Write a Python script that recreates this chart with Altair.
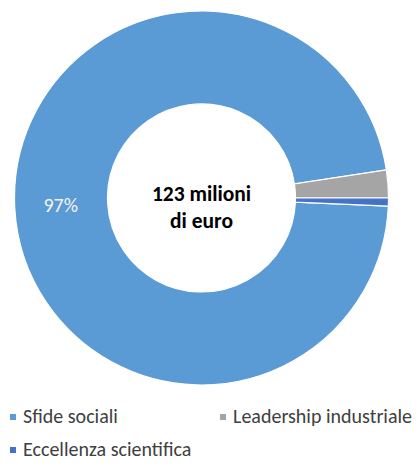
import math
import altair as alt
import pandas as pd

categories = ["Sfide sociali", "Leadership industriale", "Eccellenza scientifica"]
shares = [96.9, 2.4, 0.7]
colors = ["#5B9BD5", "#A5A5A5", "#4472C4"]
slice_labels = ["97%", "", ""]
center_lines = ["123 milioni", "di euro"]

# legend is filled column by column: list order so that rows read
# Sfide sociali | Leadership industriale / Eccellenza scientifica
legend_order = [categories[0], categories[2], categories[1]]
legend_colors = [colors[0], colors[2], colors[1]]

df = pd.DataFrame({
    "cat": categories,
    "share": shares,
    "order": list(range(len(categories))),
    "label": slice_labels,
})

total = sum(shares)
start = math.pi / 2 + shares[2] / total * 2 * math.pi
theta_scale = alt.Scale(range=[start, start + 2 * math.pi])

CX, CY = 193.5, 190
FONT = "Carlito, Lato"

base = alt.Chart(df)

arcs = base.mark_arc(innerRadius=94, outerRadius=187, stroke="white", strokeWidth=1.2).encode(
    theta=alt.Theta("share:Q", stack=True, scale=theta_scale),
    order=alt.Order("order:Q"),
    color=alt.Color(
        "cat:N",
        scale=alt.Scale(domain=legend_order, range=legend_colors),
        legend=alt.Legend(
            title=None,
            orient="none",
            legendX=-5,
            legendY=399,
            columns=2,
            columnPadding=21,
            rowPadding=13,
            symbolType="square",
            symbolSize=36,
            symbolStrokeWidth=0,
            labelFontSize=20,
            labelFont=FONT,
            labelColor="#404040",
            labelOffset=0,
            padding=0,
            labelLimit=300,
        ),
    ),
    x=alt.value(CX),
    y=alt.value(CY),
)

labels = base.mark_text(radius=141, fontSize=20, font=FONT, color="#F2F2F2").encode(
    theta=alt.Theta("share:Q", stack=True, scale=theta_scale),
    order=alt.Order("order:Q"),
    text="label:N",
    x=alt.value(CX),
    y=alt.value(CY),
)

center = alt.Chart(pd.DataFrame({"k": [0]})).mark_text(
    text=center_lines,
    fontSize=21.5,
    fontWeight="bold",
    font=FONT,
    color="black",
    lineHeight=27,
    baseline="middle",
).encode(x=alt.value(CX), y=alt.value(CY - 3))

chart = alt.layer(arcs, labels, center).properties(
    width=404,
    height=454,
    padding=0,
    autosize=alt.AutoSizeParams(type="none"),
).configure_view(stroke=None)

chart.save("out.html", embed_options={"renderer": "svg", "actions": False})
